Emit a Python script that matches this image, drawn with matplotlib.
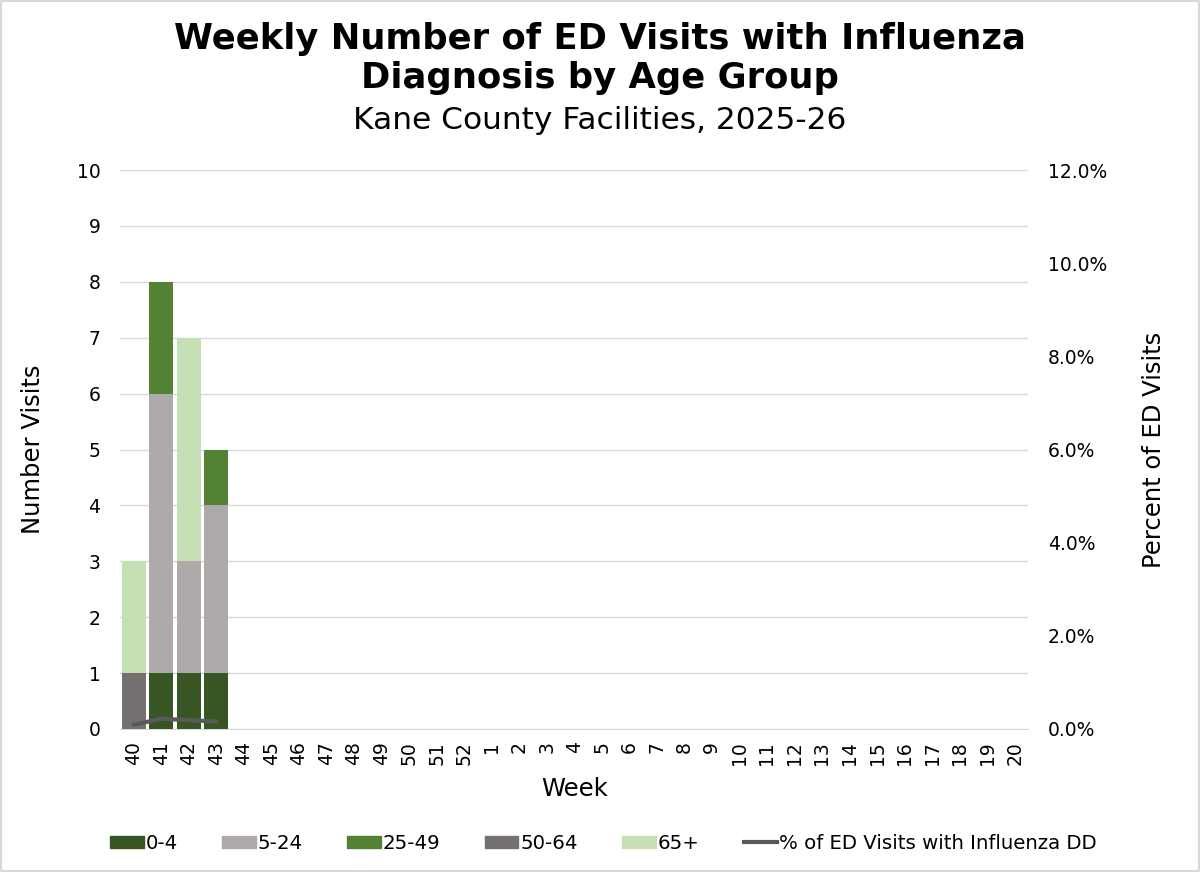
import matplotlib
matplotlib.use("Agg")
import matplotlib.pyplot as plt
import numpy as np
from matplotlib.patches import Patch, Rectangle
from matplotlib.lines import Line2D

weeks = [str(w) for w in list(range(40, 53)) + list(range(1, 21))]
age_groups = ["0-4", "5-24", "25-49", "50-64", "65+"]
v_0_4 = [0, 1, 1, 1]
v_5_24 = [0, 5, 2, 3]
v_25_49 = [0, 2, 0, 1]
v_50_64 = [1, 0, 0, 0]
v_65p = [2, 0, 4, 0]
pct_ed = [0.09, 0.22, 0.19, 0.16]
colors = ["#375623", "#AEAAAA", "#548235", "#767171", "#C5E0B4"]
line_color = "#595959"

plt.rcParams['font.family'] = ['DejaVu Sans']

fig = plt.figure(figsize=(12, 8.72), dpi=100)
ax = fig.add_axes([0.1, 0.164, 0.757, 0.641])
ax2 = ax.twinx()

n = len(weeks)
x = np.arange(n)
series = [v_0_4, v_5_24, v_25_49, v_50_64, v_65p]
bottom = np.zeros(n)
for vals, c, lab in zip(series, colors, age_groups):
    full = np.zeros(n)
    full[:len(vals)] = vals
    ax.bar(x, full, bottom=bottom, width=0.87, color=c, label=lab, zorder=3)
    bottom += full

ax.set_xlim(-0.5, n - 0.5)
ax.set_ylim(0, 10)
ax.set_yticks(range(0, 11))
ax.set_xticks(x)
ax.set_xticklabels(weeks, rotation=90, fontsize=13.5)
ax.tick_params(axis='y', labelsize=13.5, length=0, pad=14)
ax.tick_params(axis='x', length=0, pad=9)
ax.grid(axis='y', color='#D9D9D9', linewidth=1, zorder=0)
for s in ['top', 'right', 'left']:
    ax.spines[s].set_visible(False)
ax.spines['bottom'].set_color('#D9D9D9')
ax.set_ylabel("Number Visits", fontsize=17.5, labelpad=23)
ax.set_xlabel("Week", fontsize=17.5, labelpad=8)

ax2.plot(np.arange(len(pct_ed)), pct_ed, color=line_color, linewidth=3, zorder=5, solid_capstyle='round')
ax2.set_ylim(0, 12)
ax2.set_yticks(range(0, 13, 2))
ax2.set_yticklabels([f"{v:.1f}%" for v in range(0, 13, 2)])
ax2.tick_params(axis='y', labelsize=13.5, length=0, pad=14)
for s in ['top', 'right', 'left', 'bottom']:
    ax2.spines[s].set_visible(False)
ax2.set_ylabel("Percent of ED Visits", fontsize=17.5, labelpad=25)

fig.text(0.5, 0.933, "Weekly Number of ED Visits with Influenza\nDiagnosis by Age Group",
         ha='center', va='center', fontsize=25.5, fontweight='bold', linespacing=1.2)
fig.text(0.5, 0.862, "Kane County Facilities, 2025-26", ha='center', va='center', fontsize=22.5)

handles = [Patch(color=c, label=l) for c, l in zip(colors, age_groups)]
handles.append(Line2D([0], [0], color=line_color, linewidth=3, label="% of ED Visits with Influenza DD"))
fig.legend(handles=handles, loc='center', bbox_to_anchor=(0.503, 0.033), ncol=6, frameon=False,
           fontsize=14.2, handlelength=1.7, handleheight=0.55, columnspacing=2.25, handletextpad=0.1)

fig.patches.append(Rectangle((0.001, 0.001), 0.998, 0.998, transform=fig.transFigure,
                             fill=False, edgecolor='#D9D9D9', linewidth=1.5))

fig.savefig("out.png", dpi=100)
